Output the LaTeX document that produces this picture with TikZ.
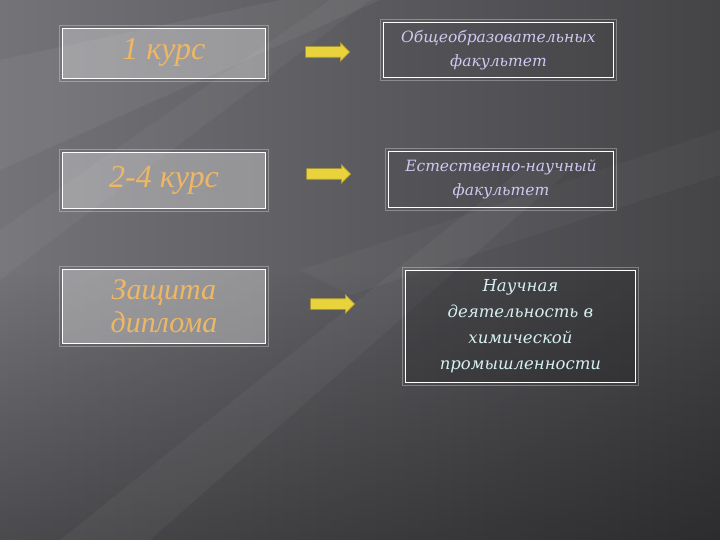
\documentclass[tikz,border=0pt]{standalone}
\usepackage{fontspec}
\setmainfont{Liberation Serif}
\newfontfamily\rfont{DejaVu Serif}
\usetikzlibrary{shapes.arrows,fadings}
\definecolor{bgL}{HTML}{737378}
\definecolor{bgR}{HTML}{444447}
\definecolor{gold}{HTML}{EDB766}
\definecolor{lav}{HTML}{CFC8F2}
\definecolor{cyanish}{HTML}{D6F0F2}
\definecolor{arrowY}{HTML}{E9D33C}
\definecolor{arrowE}{HTML}{B09A2A}
\tikzset{
  box/.style={draw=white, line width=0.9pt, inner sep=0pt, anchor=north west},
  leftbox/.style={box, fill=white, fill opacity=0.32, text opacity=1},
  rightbox/.style={box, fill=black, fill opacity=0.05, text opacity=1},
  lefttext/.style={text=gold, align=center},
  righttext/.style={text=lav, align=center},
  arr/.style={single arrow, fill=arrowY, draw=arrowE, line width=0.6pt,
    minimum height=44pt, inner xsep=0pt, inner ysep=5pt,
    single arrow head extend=4pt, single arrow head indent=0pt},
  outer/.style={draw=white, draw opacity=0.3, line width=0.5pt}
}
\begin{document}
\begin{tikzpicture}[x=1pt,y=-1pt]
\useasboundingbox (0,0) rectangle (720,540);
% background
\shade[left color=bgL, right color=bgR] (0,0) rectangle (720,540);
\fill[black, opacity=0.35, path fading=north] (0,270) rectangle (720,540);
\fill[white, opacity=0.05] (0,60) -- (280,0) -- (380,0) -- (0,170) -- cycle;
\fill[white, opacity=0.04] (0,230) -- (330,0) -- (370,0) -- (0,280) -- cycle;
\fill[white, opacity=0.04] (60,540) -- (520,170) -- (570,170) -- (150,540) -- cycle;
\fill[white, opacity=0.03] (300,270) -- (720,130) -- (720,175) -- (350,295) -- cycle;

% left boxes
\draw[outer] (59,25) rectangle (268,81);
\node[leftbox, minimum width=203pt, minimum height=50pt] (b1) at (62,28) {};
\node[lefttext, font=\itshape\fontsize{32}{34}\selectfont] (t1) at ([yshift=1pt]b1.center) {1 курс};

\draw[outer] (59,149) rectangle (268,211);
\node[leftbox, minimum width=203pt, minimum height=56pt] (b2) at (62,152) {};
\node[lefttext, font=\itshape\fontsize{32}{34}\selectfont] (t2) at (b2.center) {2-4 курс};

\draw[outer] (59,266) rectangle (268,346);
\node[leftbox, minimum width=203pt, minimum height=74pt] (b3) at (62,269) {};
\node[lefttext, font=\itshape\fontsize{30}{33}\selectfont] (t3) at (b3.center) {Защита\\диплома};

% right boxes
\draw[outer] (380,19) rectangle (616,80);
\node[rightbox, minimum width=230pt, minimum height=55pt] (r1) at (383,22) {};
\node[righttext, font=\rfont\itshape\fontsize{15.5}{24}\selectfont] (u1) at (r1.center) {Общеобразовательных\\факультет};

\draw[outer] (385,148) rectangle (616,210);
\node[rightbox, minimum width=225pt, minimum height=56pt] (r2) at (388,151) {};
\node[righttext, font=\rfont\itshape\fontsize{15.5}{24}\selectfont] (u2) at (r2.center) {Естественно-научный\\факультет};

\draw[outer] (402,267) rectangle (638,385);
\node[rightbox, fill opacity=0.18, minimum width=230pt, minimum height=112pt] (r3) at (405,270) {};
\node[righttext, text=cyanish, font=\rfont\itshape\fontsize{16.5}{26}\selectfont] (u3) at (r3.center) {Научная\\деятельность в\\химической\\промышленности};

% arrows
\node[arr] (a1) at (325,52) {};
\node[arr] (a2) at (326,174) {};
\node[arr] (a3) at (330,304) {};
\end{tikzpicture}
\end{document}
